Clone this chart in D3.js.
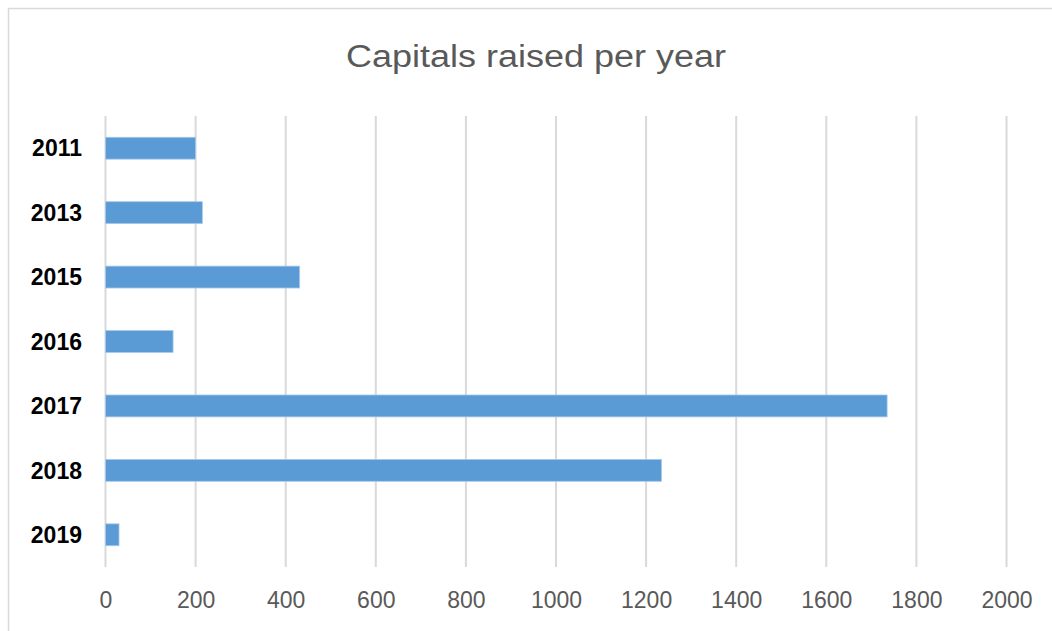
<!DOCTYPE html>
<html>
<head>
<meta charset="utf-8">
<script src="https://cdn.jsdelivr.net/npm/d3@7"></script>
<style>
  html, body { margin: 0; padding: 0; background: #fff; }
  svg { display: block; }
</style>
</head>
<body>
<script>
const categories = ["2011", "2013", "2015", "2016", "2017", "2018", "2019"];
const values = [200, 215, 431, 150, 1735, 1234, 30];
const tickValues = [0, 200, 400, 600, 800, 1000, 1200, 1400, 1600, 1800, 2000];
const titleText = "Capitals raised per year";

const W = 1052, H = 631;
const svg = d3.select("body").append("svg").attr("width", W).attr("height", H);

// chart frame
svg.append("path")
  .attr("d", `M8.5,${H} L8.5,8.5 L${W},8.5`)
  .attr("fill", "none").attr("stroke", "#d9d9d9").attr("stroke-width", 1.5);

const plot = { left: 105.5, right: 1006.5, top: 116, bottom: 567 };

const x = d3.scaleLinear().domain([0, 2000]).range([plot.left, plot.right]);
const y = d3.scaleBand().domain(categories).range([plot.top, plot.bottom]).paddingInner(0.66).paddingOuter(0.33);

// gridlines
svg.append("g").selectAll("line").data(tickValues).join("line")
  .attr("x1", d => x(d)).attr("x2", d => x(d))
  .attr("y1", plot.top).attr("y2", plot.bottom)
  .attr("stroke", "#d9d9d9").attr("stroke-width", 2);

// bars
svg.append("g").selectAll("rect").data(categories).join("rect")
  .attr("x", x(0))
  .attr("y", d => y(d))
  .attr("width", (d, i) => x(values[i]) - x(0))
  .attr("height", y.bandwidth())
  .attr("fill", "#5b9bd5")
  .attr("stroke", "#a9c9ea").attr("stroke-width", 0.8);

// x axis labels
const xAxis = d3.axisBottom(x).tickValues(tickValues).tickFormat(d3.format("d")).tickSize(0).tickPadding(0);
const gx = svg.append("g").attr("transform", `translate(0,${plot.bottom + 25})`).call(xAxis);
gx.select(".domain").remove();
gx.selectAll("text")
  .attr("fill", "#595959")
  .attr("font-family", "Liberation Sans, Arial, sans-serif")
  .attr("font-size", 23)
  .attr("dy", "0.71em");

// y axis labels
const yAxis = d3.axisLeft(y).tickSize(0).tickPadding(0);
const gy = svg.append("g").attr("transform", `translate(82,0)`).call(yAxis);
gy.select(".domain").remove();
gy.selectAll("text")
  .attr("fill", "#000")
  .attr("font-family", "Liberation Sans, Arial, sans-serif")
  .attr("font-weight", "bold")
  .attr("font-size", 23)
  .attr("dy", "0.36em");

// title
svg.append("text")
  .attr("x", 536).attr("y", 67)
  .attr("text-anchor", "middle")
  .attr("fill", "#595959")
  .attr("font-family", "Liberation Sans, Arial, sans-serif")
  .attr("font-size", 31)
  .attr("textLength", 380)
  .attr("lengthAdjust", "spacingAndGlyphs")
  .text(titleText);
</script>
</body>
</html>
